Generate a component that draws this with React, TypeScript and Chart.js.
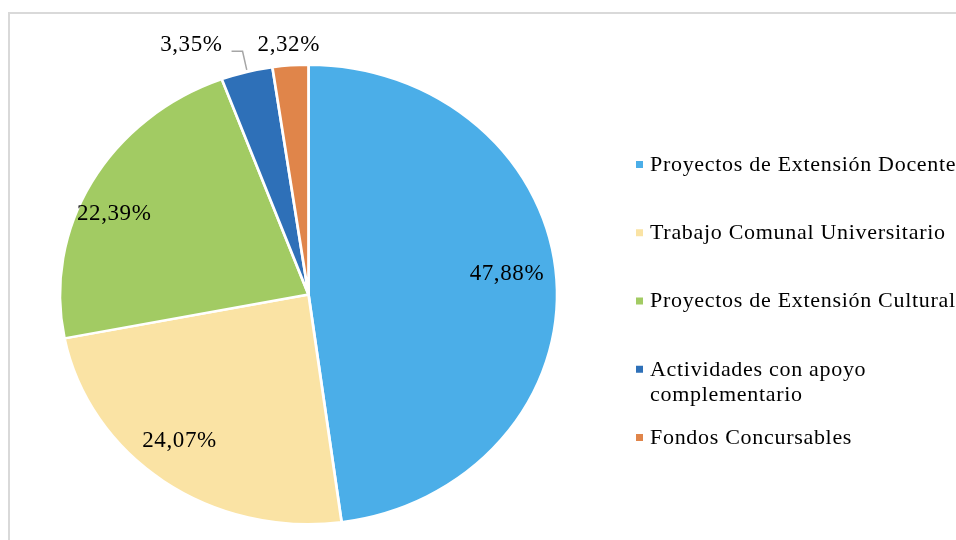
import React, { useEffect, useRef } from "react";
import { Chart, registerables } from "chart.js";

Chart.register(...registerables);

const categories = [
  "Proyectos de Extensión Docente",
  "Trabajo Comunal Universitario",
  "Proyectos de Extensión Cultural",
  "Actividades con apoyo\ncomplementario",
  "Fondos Concursables",
];
const values = [47.88, 24.07, 22.39, 3.35, 2.32];
const valueLabels = ["47,88%", "24,07%", "22,39%", "3,35%", "2,32%"];
const colors = ["#4BAEE8", "#FAE3A4", "#A2CB63", "#2E70B8", "#E0854A"];

// label placement styling
const labelRadius = [0.8, 0.8, 0.85, 1.12, 1.09];
const labelShiftX = [0, -13, -10, -48, 0];
const labelShiftY = [-8, -3, 15, 0, 0];
const SX = 1.082; // horizontal stretch of the pie (ellipse)
const FONT = "'Liberation Serif', 'Times New Roman', serif";

const ellipsePlugin = {
  id: "ellipse",
  beforeDatasetsDraw(chart: any) {
    const a = chart.getDatasetMeta(0).data[0];
    const ctx = chart.ctx;
    ctx.save();
    ctx.translate(a.x, a.y);
    ctx.scale(SX, 1);
    ctx.translate(-a.x, -a.y);
  },
  afterDatasetsDraw(chart: any) {
    chart.ctx.restore();
  },
};

const labelPlugin = {
  id: "labels",
  afterDraw(chart: any) {
    const ctx = chart.ctx;
    const arcs = chart.getDatasetMeta(0).data;
    ctx.save();
    ctx.font = `23px ${FONT}`;
    (ctx as any).letterSpacing = "0.6px";
    ctx.fillStyle = "#000";
    ctx.textAlign = "center";
    ctx.textBaseline = "middle";
    arcs.forEach((arc: any, i: number) => {
      const mid = (arc.startAngle + arc.endAngle) / 2;
      const r = arc.outerRadius * labelRadius[i];
      const px = arc.x + Math.cos(mid) * r * SX + labelShiftX[i];
      const py = arc.y + Math.sin(mid) * r + labelShiftY[i];
      ctx.fillText(valueLabels[i], px, py);
      if (labelShiftX[i] !== 0 && labelRadius[i] > 1) {
        const w = ctx.measureText(valueLabels[i]).width;
        const ex = arc.x + Math.cos(mid) * arc.outerRadius * SX;
        const ey = arc.y + Math.sin(mid) * arc.outerRadius;
        const hx = px + w / 2 + 9;
        const hy = py + 6;
        ctx.strokeStyle = "#A6A6A6";
        ctx.lineWidth = 1.5;
        ctx.beginPath();
        ctx.moveTo(ex, ey - 2);
        ctx.lineTo(hx + 11, hy);
        ctx.lineTo(hx, hy);
        ctx.stroke();
      }
    });
    ctx.restore();
  },
};

const legendPlugin = {
  id: "customLegend",
  afterDraw(chart: any) {
    const ctx = chart.ctx;
    ctx.save();
    ctx.font = `22px ${FONT}`;
    (ctx as any).letterSpacing = "0.7px";
    ctx.textAlign = "left";
    ctx.textBaseline = "middle";
    const x0 = 636;
    const y0 = 165;
    const step = 68.25;
    categories.forEach((c, i) => {
      const y = y0 + i * step;
      ctx.fillStyle = colors[i];
      ctx.fillRect(x0, y - 4, 7, 7);
      ctx.fillStyle = "#000";
      c.split("\n").forEach((line, j) => {
        ctx.fillText(line, x0 + 14, y + j * 25);
      });
    });
    ctx.restore();
  },
};

export default function App() {
  const ref = useRef<HTMLCanvasElement>(null);
  useEffect(() => {
    if (!ref.current) return;
    const chart = new Chart(ref.current, {
      type: "pie",
      data: {
        labels: categories,
        datasets: [
          {
            data: values,
            backgroundColor: colors,
            borderColor: "#FFFFFF",
            borderWidth: 2.5,
          },
        ],
      },
      options: {
        responsive: false,
        animation: false,
        layout: { padding: { top: 63, bottom: 14, left: 77.5, right: 416.5 } },
        plugins: {
          legend: { display: false },
          tooltip: { enabled: false },
        },
      },
      plugins: [ellipsePlugin, labelPlugin, legendPlugin],
    });
    return () => chart.destroy();
  }, []);
  return (
    <div style={{ position: "fixed", left: 0, top: 0, width: 956, height: 540, background: "#fff" }}>
      <div
        style={{
          position: "absolute",
          left: 8,
          top: 12,
          width: 960,
          height: 540,
          borderTop: "2px solid #D9D9D9",
          borderLeft: "2px solid #D9D9D9",
          boxSizing: "border-box",
        }}
      />
      <canvas ref={ref} width={956} height={540} style={{ position: "absolute", left: 0, top: 0, width: 956, height: 540 }} />
    </div>
  );
}
